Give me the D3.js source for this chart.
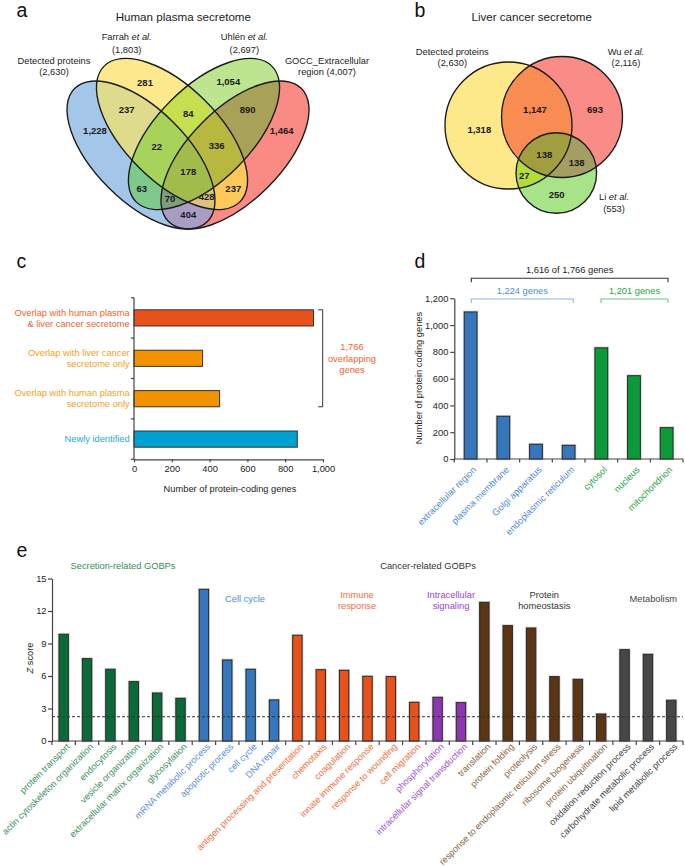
<!DOCTYPE html>
<html><head><meta charset="utf-8">
<script src="https://cdn.jsdelivr.net/npm/d3@7"></script>
<style>
body{margin:0;background:#fff;}
svg{display:block;font-family:Arial,"Liberation Sans",Helvetica,sans-serif;}
</style></head><body>
<svg id="fig" width="685" height="866"></svg>
<script>
// ================= DATA =================
// Panel a: human plasma secretome (4-set Venn)
const vennASets = ["Detected proteins", "Farrah et al.", "Uhlén et al.", "GOCC_Extracellular region"];
const vennASetSizes = [2630, 1803, 2697, 4007];
const vennARegions = ["A","B","C","D","AB","BC","CD","AC","BD","AD","ABC","BCD","ACD","ABD","ABCD"];
const vennACounts  = [1228, 281, 1054, 1464, 237, 84, 890, 63, 237, 404, 22, 336, 70, 428, 178];

// Panel b: liver cancer secretome (3-set Venn)
const vennBSets = ["Detected proteins", "Wu et al.", "Li et al."];
const vennBSetSizes = [2630, 2116, 553];
const vennBRegions = ["A","B","C","AB","AC","BC","ABC"];
const vennBCounts  = [1318, 693, 250, 1147, 27, 138, 138];

// Panel c
const cCategories = ["Overlap with human plasma\n& liver cancer secretome",
                     "Overlap with liver cancer\nsecretome only",
                     "Overlap with human plasma\nsecretome only",
                     "Newly identified"];
const cValues = [950, 363, 453, 864];
const cTicks = [0, 200, 400, 600, 800, 1000];
const cOverlapTotal = "1,766";

// Panel d
const dCategories = ["extracellular region","plasma membrane","Golgi apparatus","endoplasmic reticulum","cytosol","nucleus","mitochondrion"];
const dValues = [1098, 319, 110, 102, 830, 622, 234];
const dGroups = ["sec","sec","sec","sec","intra","intra","intra"];
const dTicks = [0, 200, 400, 600, 800, 1000, 1200];

// Panel e
const eCategories = ["protein transport","actin cytoskeleton organization","endocytosis","vesicle organization",
  "extracellular matrix organization","glycosylation","mRNA metabolic process","apoptotic process","cell cycle",
  "DNA repair","antigen processing and presentation","chemotaxis","coagulation","innate immune response",
  "response to wounding","cell migration","phosphorylation","intracellular signal transduction","translation",
  "protein folding","proteolysis","response to endoplasmic reticulum stress","ribosome biogenesis",
  "protein ubiquitination","oxidation-reduction process","carbohydrate metabolic process","lipid metabolic process"];
const eValues = [9.85, 7.6, 6.62, 5.48, 4.43, 3.94, 14.0, 7.48, 6.62, 3.79, 9.76, 6.58, 6.52, 5.97, 5.94, 3.57,
  4.03, 3.54, 12.8, 10.65, 10.43, 5.94, 5.69, 2.49, 8.43, 8.0, 3.76];
const eGroups = ["sec","sec","sec","sec","sec","sec","cc","cc","cc","cc","imm","imm","imm","imm","imm","imm",
  "sig","sig","ph","ph","ph","ph","ph","ph","met","met","met"];
const eTicks = [0, 3, 6, 9, 12, 15];
const eThreshold = 2.24;

// ================= STYLE / LAYOUT =================
const svg = d3.select("#fig");
const FS = 9.3;
const fmt = d3.format(",");

function txt(g, x, y, s, opt = {}) {
  const t = g.append("text").attr("x", x).attr("y", y).attr("dy", "0.35em")
    .attr("text-anchor", opt.anchor || "middle")
    .attr("font-size", opt.size || FS)
    .attr("fill", opt.fill || "#222")
    .attr("font-weight", opt.weight || null);
  if (opt.italicTail) {
    t.append("tspan").text(s);
    t.append("tspan").attr("font-style", "italic").text(opt.italicTail);
  } else t.text(s);
  return t;
}

// panel letters
[["a",16.5,17],["b",414.5,17],["c",16.5,268],["d",414.5,268],["e",16.5,557]].forEach(([l,x,y]) =>
  svg.append("text").attr("x", x).attr("y", y).attr("font-size", 19.5).attr("fill", "#111").text(l));

function addShape(sel, s) {
  if (s.r) return sel.append("circle").attr("cx", s.cx).attr("cy", s.cy).attr("r", s.r);
  return sel.append("ellipse").attr("cx", s.cx).attr("cy", s.cy).attr("rx", s.rx).attr("ry", s.ry)
    .attr("transform", `rotate(${s.rot},${s.cx},${s.cy})`);
}
function drawVenn(g, shapes, regions, colors, prefix) {
  const defs = g.append("defs");
  shapes.forEach((s, i) => addShape(defs.append("clipPath").attr("id", prefix + i), s));
  const order = regions.map((r, i) => i).sort((a, b) => regions[a].length - regions[b].length);
  order.forEach(i => {
    const idx = regions[i].split("").map(c => c.charCodeAt(0) - 65);
    let parent = g;
    idx.slice(0, -1).forEach(k => { parent = parent.append("g").attr("clip-path", `url(#${prefix}${k})`); });
    addShape(parent, shapes[idx[idx.length - 1]]).attr("fill", colors[regions[i]]).attr("stroke", "none");
  });
  shapes.forEach(s => addShape(g, s).attr("fill", "none").attr("stroke", "#1a1a1a").attr("stroke-width", 1.35));
}

// ---------- Panel a ----------
{
  const g = svg.append("g");
  const shapes = [
    {cx:141, cy:155, rx:94, ry:46, rot:45},
    {cx:172, cy:134, rx:96, ry:47, rot:45},
    {cx:204, cy:134, rx:96, ry:47, rot:-45},
    {cx:235, cy:155, rx:94, ry:46, rot:-45}];
  const colors = {A:"#a4c6e8", B:"#fde98b", C:"#bde58f", D:"#f98a84", AB:"#dedb8c", BC:"#c6df4e", CD:"#a8a258",
    AC:"#7fc98a", BD:"#fcc85a", AD:"#a99dc4", ABC:"#a7d35a", BCD:"#b8b840", ACD:"#7c9e78", ABD:"#d8c47a", ABCD:"#a2bc4c"};
  drawVenn(g, shapes, vennARegions, colors, "va");
  const pos = {A:[95,131], B:[145,82.3], C:[228.3,81.7], D:[281.7,131], AB:[126.7,110], BC:[188.3,113.3],
    CD:[247.7,110], AC:[141.7,188.3], BD:[233.3,188.3], AD:[188.3,215], ABC:[156.7,146.7], BCD:[216.7,146],
    ACD:[170,198.3], ABD:[206.7,196.7], ABCD:[188.3,171.7]};
  vennARegions.forEach((r, i) => txt(g, pos[r][0], pos[r][1], fmt(vennACounts[i]), {weight:"bold", size:9.5, fill:"#1a1a1a"}));
  txt(g, 183.3, 16.7, "Human plasma secretome", {size:11.6});
  txt(g, 54, 61, vennASets[0]);           txt(g, 54, 71.7, `(${fmt(vennASetSizes[0])})`);
  txt(g, 126.7, 36.7, "Farrah ", {italicTail:"et al."}); txt(g, 126.7, 49.3, `(${fmt(vennASetSizes[1])})`);
  txt(g, 244.3, 36.7, "Uhlén ", {italicTail:"et al."});  txt(g, 244.3, 49.3, `(${fmt(vennASetSizes[2])})`);
  txt(g, 327, 61, "GOCC_Extracellular");  txt(g, 327, 71.7, `region (${fmt(vennASetSizes[3])})`);
}

// ---------- Panel b ----------
{
  const g = svg.append("g");
  const shapes = [{cx:508.5, cy:125.5, r:63.5}, {cx:562, cy:117, r:60.5}, {cx:556.3, cy:173, r:40.3}];
  const colors = {A:"#fde98a", B:"#f98c86", C:"#a8e38a", AB:"#f98c52", AC:"#b3dc3b", BC:"#a49e62", ABC:"#a09e3e"};
  drawVenn(g, shapes, vennBRegions, colors, "vb");
  const pos = {A:[479.3,129.3], B:[595,110], C:[556.7,194.3], AB:[535,109.3], AC:[524.3,175.7], BC:[576.7,162.3], ABC:[544.3,155]};
  vennBRegions.forEach((r, i) => txt(g, pos[r][0], pos[r][1], fmt(vennBCounts[i]), {weight:"bold", size:9.5, fill:"#1a1a1a"}));
  txt(g, 531.7, 16.7, "Liver cancer secretome", {size:11.6});
  txt(g, 452.3, 51.7, vennBSets[0]);  txt(g, 452.3, 62.3, `(${fmt(vennBSetSizes[0])})`);
  txt(g, 626, 51.7, "Wu ", {italicTail:"et al."}); txt(g, 626, 62.3, `(${fmt(vennBSetSizes[1])})`);
  txt(g, 614, 196.7, "Li ", {italicTail:"et al."}); txt(g, 614, 209, `(${fmt(vennBSetSizes[2])})`);
}

function styleAxis(a) {
  a.selectAll(".domain").attr("stroke", "#444").attr("stroke-width", 1.2);
  a.selectAll(".tick line").attr("stroke", "#444").attr("stroke-width", 1.2);
  a.selectAll(".tick text").attr("font-size", FS).attr("fill", "#222").attr("font-family", null);
  a.attr("font-family", null);
}

// ---------- Panel c ----------
{
  const g = svg.append("g");
  const x = d3.scaleLinear().domain([0, 1000]).range([134, 323]);
  const y = d3.scaleBand().domain(cCategories).range([297.7, 459.3]).paddingInner(0.6).paddingOuter(0.3);
  const barCol = ["#e8511c", "#f39200", "#f39200", "#00a1d3"];
  const labCol = ["#f0622e", "#f5a01e", "#f5a01e", "#1aa9d9"];
  g.selectAll("rect.bar").data(cValues).join("rect")
    .attr("x", x(0)).attr("y", (d, i) => y(cCategories[i])).attr("width", d => x(d) - x(0))
    .attr("height", y.bandwidth()).attr("fill", (d, i) => barCol[i]).attr("stroke", "#333").attr("stroke-width", 1);
  const ax = g.append("g").attr("transform", `translate(0,459.3)`)
    .call(d3.axisBottom(x).tickValues(cTicks).tickFormat(fmt).tickSizeInner(3).tickSizeOuter(0).tickPadding(3));
  styleAxis(ax);
  g.append("line").attr("x1", 134).attr("x2", 134).attr("y1", 297.7).attr("y2", 459.3).attr("stroke", "#444").attr("stroke-width", 1.2);
  for (let i = 0; i <= cCategories.length; i++) {
    const yy = y.range()[0] + i * y.step();
    g.append("line").attr("x1", 131).attr("x2", 134).attr("y1", yy).attr("y2", yy).attr("stroke", "#444").attr("stroke-width", 1.2);
  }
  cCategories.forEach((c, i) => {
    const lines = c.split("\n");
    const cy = y(c) + y.bandwidth() / 2;
    lines.forEach((l, j) => txt(g, 129.7, cy + (j - (lines.length - 1) / 2) * 11, l, {anchor:"end", fill:labCol[i]}));
  });
  txt(g, 230, 488.3, "Number of protein-coding genes");
  const bt = y(cCategories[0]), bb = y(cCategories[2]) + y.bandwidth(), bx = 322.7;
  g.append("path").attr("d", `M${bx-4.5},${bt}H${bx}V${bb}H${bx-4.5}`).attr("fill", "none").attr("stroke", "#333").attr("stroke-width", 1);
  const mid = (bt + bb) / 2;
  txt(g, 352, mid - 11.2, cOverlapTotal, {fill:"#f0622e"});
  txt(g, 352, mid, "overlapping", {fill:"#f0622e"});
  txt(g, 352, mid + 11.2, "genes", {fill:"#f0622e"});
}

// ---------- Panel d ----------
{
  const g = svg.append("g");
  const y = d3.scaleLinear().domain([0, 1200]).range([459, 298.3]);
  const x = d3.scaleBand().domain(dCategories).range([454.3, 683]).paddingInner(0.61).paddingOuter(0.305);
  const barCol = {sec:"#3576bd", intra:"#0a9b38"};
  const labCol = {sec:"#4f8bd2", intra:"#1fa33f"};
  const bars = g.selectAll("g.bar").data(dValues).join("g");
  bars.append("rect").attr("x", (d, i) => x(dCategories[i])).attr("y", d => y(d))
    .attr("width", x.bandwidth()).attr("height", d => y(0) - y(d))
    .attr("fill", "none").attr("stroke", "#cfcfcf").attr("stroke-width", 2.6);
  bars.append("rect").attr("x", (d, i) => x(dCategories[i])).attr("y", d => y(d))
    .attr("width", x.bandwidth()).attr("height", d => y(0) - y(d))
    .attr("fill", (d, i) => barCol[dGroups[i]]).attr("stroke", "#2a2a2a").attr("stroke-width", 1);
  const ay = g.append("g").attr("transform", `translate(454.3,0)`)
    .call(d3.axisLeft(y).tickValues(dTicks).tickFormat(fmt).tickSizeInner(4).tickSizeOuter(0).tickPadding(2));
  styleAxis(ay);
  g.append("line").attr("x1", 454.3).attr("x2", 683).attr("y1", 459).attr("y2", 459).attr("stroke", "#444").attr("stroke-width", 1.2);
  for (let i = 0; i <= dCategories.length; i++) {
    const xx = x.range()[0] + i * x.step();
    g.append("line").attr("x1", xx).attr("x2", xx).attr("y1", 459).attr("y2", 462.5).attr("stroke", "#444").attr("stroke-width", 1.2);
  }
  dCategories.forEach((c, i) => {
    const cx = x(c) + x.bandwidth() / 2;
    g.append("text").attr("transform", `translate(${cx + 4},468) rotate(-45)`).attr("text-anchor", "end")
      .attr("dy", "0.35em").attr("font-size", FS).attr("fill", labCol[dGroups[i]]).text(c);
  });
  g.append("text").attr("transform", `translate(418.7,378) rotate(-90)`).attr("text-anchor", "middle")
    .attr("dy", "0.35em").attr("font-size", FS).attr("fill", "#222").text("Number of protein coding genes");
  const c = i => x(dCategories[i]) + x.bandwidth() / 2;
  function bracket(x1, x2, yb, col, label, lcol) {
    g.append("path").attr("d", `M${x1},${yb + 4}V${yb}H${x2}V${yb + 4}`).attr("fill", "none").attr("stroke", col).attr("stroke-width", 1.1);
    txt(g, (x1 + x2) / 2, yb - 8.2, label, {fill: lcol});
  }
  bracket(c(0) + 0.7, c(6) + 1.3, 278.3, "#333", "1,616 of 1,766 genes", "#222");
  bracket(c(0) + 0.7, c(3) + 4.7, 299, "#93b6e2", "1,224 genes", "#4f8bd2");
  bracket(c(4) - 0.3, c(6) + 1.3, 299, "#6cc686", "1,201 genes", "#1fa33f");
}

// ---------- Panel e ----------
{
  const g = svg.append("g");
  const y = d3.scaleLinear().domain([0, 15]).range([741, 578.5]);
  const x = d3.scaleBand().domain(eCategories).range([52, 683]).paddingInner(0.6).paddingOuter(0.3);
  const barCol = {sec:"#0a6b38", cc:"#3477bc", imm:"#e8511a", sig:"#8e35b3", ph:"#5c3513", met:"#474747"};
  const labCol = {sec:"#3a9060", cc:"#5b8fd6", imm:"#f26e3e", sig:"#9a55d4", ph:"#8c6440", met:"#444"};
  const bars = g.selectAll("g.bar").data(eValues).join("g");
  bars.append("rect").attr("x", (d, i) => x(eCategories[i])).attr("y", d => y(d))
    .attr("width", x.bandwidth()).attr("height", d => y(0) - y(d))
    .attr("fill", "none").attr("stroke", "#cfcfcf").attr("stroke-width", 2.6);
  bars.append("rect").attr("x", (d, i) => x(eCategories[i])).attr("y", d => y(d))
    .attr("width", x.bandwidth()).attr("height", d => y(0) - y(d))
    .attr("fill", (d, i) => barCol[eGroups[i]]).attr("stroke", "#2a2a2a").attr("stroke-width", 1);
  g.append("line").attr("x1", 52).attr("x2", 683).attr("y1", y(eThreshold)).attr("y2", y(eThreshold))
    .attr("stroke", "#333").attr("stroke-width", 1).attr("stroke-dasharray", "3,2");
  const ay = g.append("g").attr("transform", `translate(52,0)`)
    .call(d3.axisLeft(y).tickValues(eTicks).tickSizeInner(4).tickSizeOuter(0).tickPadding(1.5));
  styleAxis(ay);
  g.append("line").attr("x1", 52).attr("x2", 683).attr("y1", 741).attr("y2", 741).attr("stroke", "#444").attr("stroke-width", 1.2);
  for (let i = 0; i <= eCategories.length; i++) {
    const xx = x.range()[0] + i * x.step();
    g.append("line").attr("x1", xx).attr("x2", xx).attr("y1", 741).attr("y2", 745).attr("stroke", "#444").attr("stroke-width", 1.2);
  }
  eCategories.forEach((c, i) => {
    const cx = x(c) + x.bandwidth() / 2;
    g.append("text").attr("transform", `translate(${cx + 4.5},745) rotate(-45)`).attr("text-anchor", "end")
      .attr("dy", "0.35em").attr("font-size", 9.1).attr("fill", labCol[eGroups[i]]).text(c);
  });
  const zt = g.append("text").attr("transform", `translate(29.5,658) rotate(-90)`).attr("text-anchor", "middle")
    .attr("dy", "0.35em").attr("font-size", FS).attr("fill", "#222");
  zt.append("tspan").attr("font-style", "italic").text("Z");
  zt.append("tspan").text(" score");
  txt(g, 123, 566, "Secretion-related GOBPs", {fill:"#2f8f57"});
  txt(g, 428, 566, "Cancer-related GOBPs", {fill:"#333"});
  txt(g, 245, 599, "Cell cycle", {fill:"#4f8bd2"});
  txt(g, 357, 594.7, "Immune", {fill:"#f26e3e"}); txt(g, 357, 605.7, "response", {fill:"#f26e3e"});
  txt(g, 451, 594.7, "Intracellular", {fill:"#9a3fd0"}); txt(g, 451, 605.7, "signaling", {fill:"#9a3fd0"});
  txt(g, 544.3, 594.7, "Protein", {fill:"#333"}); txt(g, 544.3, 605.7, "homeostasis", {fill:"#333"});
  txt(g, 653.3, 599, "Metabolism", {fill:"#444"});
}
</script>
</body></html>
